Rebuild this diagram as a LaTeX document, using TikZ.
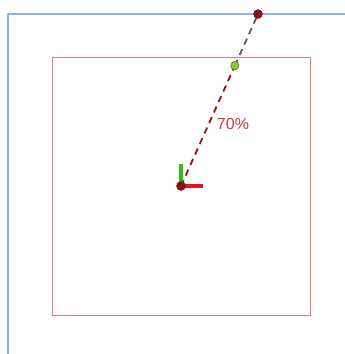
\documentclass[tikz,border=0pt]{standalone}
\usepackage{fontspec}
\setmainfont{Liberation Sans}
\usetikzlibrary{positioning, calc}
\definecolor{myblue}{HTML}{8AB4E8}
\definecolor{myred}{HTML}{E87878}
\definecolor{mydarkred}{HTML}{8E1010}
\definecolor{mygreen}{HTML}{86C832}
\definecolor{myaxisgreen}{HTML}{22C022}
\definecolor{myaxisred}{HTML}{E01818}
\definecolor{mytext}{HTML}{D8343A}
\tikzset{
	dotnode/.style={
			circle,
			draw=mydarkred!70!black,
			fill=mydarkred,
			minimum size=9pt,
			inner sep=0pt
		},
	greennode/.style={
			dotnode,
			draw=mygreen!50!black,
			fill=mygreen,
			minimum size=8.5pt
		},
	dashline/.style={
			line width=1.8pt,
			dash pattern=on 6.5pt off 5pt
		}
}

\begin{document}
\begin{tikzpicture}[x=1pt, y=1pt]
\useasboundingbox (0,0) rectangle (345,-354);

% outer frame
\draw[myblue, line width=1.2pt] (345,-14) -- (8,-14) -- (8,-354);
% square
\draw[myred, line width=1pt] (52,-57) rectangle (310,-315);

\coordinate (o) at (181,-186);
\coordinate (e) at (258,-14);
\coordinate (g) at ($(o)!0.7!(e)$);

\draw[dashline, mydarkred!85!red] (o) -- (g);
\draw[dashline, black!65] (g) -- (e);

% axes
\draw[myaxisgreen, line width=3.5pt] (o) -- ++(0,22);
\draw[myaxisred, line width=3.5pt] (o) -- ++(22,0);

\node[dotnode] (n1) at (o) {};
\node[dotnode] (n2) at (e) {};
\node[greennode] (n3) at (g) {};

\node[text=mytext, font=\fontsize{16}{19}\selectfont] (pct) at (233,-124) {70\%};
\end{tikzpicture}
\end{document}
